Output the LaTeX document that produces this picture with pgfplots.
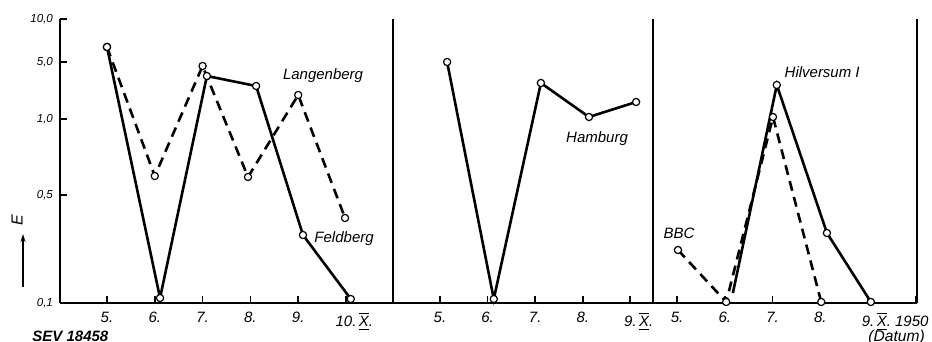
\documentclass[border=0pt]{standalone}
\usepackage{pgfplots}
\pgfplotsset{compat=1.18}
\usepackage{fontspec}
\setmainfont{Liberation Sans}
\usetikzlibrary{arrows.meta}

% Roman ten with bars above and below
\newcommand{\RX}{\ensuremath{\overline{\underline{\mbox{X}}}}}

\pgfplotsset{
  panel/.style={
    scale only axis, height=142pt, ymin=0, ymax=284,
    anchor=south west, clip=false,
    axis x line*=bottom,
    axis line style={line width=0.9pt, -},
    xtick={5,...,10},
    tick style={line width=0.9pt, black},
    xticklabel style={font=\fontsize{7.5}{8}\selectfont\itshape, yshift=-1pt},
  },
  inticks/.style={xtick align=inside, ytick align=inside, major tick length=3.5pt},
  solidline/.style={black, line width=1.3pt, mark=*, mark size=1.8pt,
    mark options={solid, fill=white, draw=black, line width=0.6pt}},
  dashline/.style={solidline, dash pattern=on 5pt off 3.2pt},
}
\tikzset{lbl/.style={font=\fontsize{7.5}{8}\selectfont\itshape}}

\begin{document}
\begin{tikzpicture}
\path[use as bounding box] (0,0) rectangle (466pt,171pt);

% panel 1: Feldberg and Langenberg
\begin{axis}[panel, at={(30pt,19.5pt)}, width=166.5pt,
  xmin=4.017, xmax=10.983,
  axis y line*=left,
  ytick={0,108,184,241,284},
  yticklabels={{0,1},{0,5},{1,0},{5,0},{10,0}},
  yticklabel style={font=\fontsize{5.8}{6}\selectfont\itshape},
  xticklabels={5.,6.,7.,8.,9.,{10.\rlap{\,\RX.}}}, inticks]
  \addplot[dashline] coordinates {(5.0,256) (6.0,127) (7.0,237) (7.95,126) (9.0,208) (9.98,85)};
  \addplot[solidline] coordinates {(5.0,256) (6.11,5) (7.09,227) (8.12,217) (9.10,68) (10.10,4)};
  \draw[line width=0.9pt] (rel axis cs:1,0) -- (rel axis cs:1,1);
  \node[lbl] at (axis cs:9.52,227) {Langenberg};
  \node[lbl] at (axis cs:9.96,64) {Feldberg};
\end{axis}

% panel 2: Hamburg
\begin{axis}[panel, at={(196.5pt,19.5pt)}, width=130pt,
  xmin=4.013, xmax=9.475,
  axis y line=none, ytick=\empty,
  xticklabels={5.,6.,7.,8.,{9.\rlap{\,\RX.}}}, inticks]
  \addplot[solidline] coordinates {(5.15,241) (6.13,4) (7.12,220) (8.13,186) (9.12,201)};
  \draw[line width=0.9pt] (rel axis cs:1,0) -- (rel axis cs:1,1);
  \node[lbl] at (axis cs:8.30,164) {Hamburg};
\end{axis}

% panel 3: Hilversum I and BBC
\begin{axis}[panel, at={(326.5pt,19.5pt)}, width=132pt,
  xmin=4.497, xmax=10.026,
  axis y line=none, ytick=\empty,
  xticklabels={5.,6.,7.,8.,{9.\rlap{\,\RX.\ 1950}}}, inticks]
  \addplot[dashline] coordinates {(5.02,53) (6.03,1) (7.01,186) (8.02,1)};
  \addplot[solidline, mark indices={2,3,4}] coordinates {(6.17,10) (7.09,218) (8.14,70) (9.06,1)};
  \draw[line width=0.9pt] (rel axis cs:1,0) -- (rel axis cs:1,1);
  \node[lbl] at (axis cs:8.04,231) {Hilversum I};
  \node[lbl] at (axis cs:5.04,70) {BBC};
\end{axis}

% axis name, arrow and plate number
\node[rotate=90, font=\fontsize{8}{8}\selectfont\itshape] at (8.5pt,61pt) {E};
\draw[line width=0.7pt, -{Stealth[length=4pt,width=2.5pt]}] (11.5pt,27.5pt) -- (11.5pt,54pt);
\node[anchor=west, font=\fontsize{7.5}{8}\selectfont\bfseries\itshape, inner sep=0pt] at (16pt,3pt) {SEV 18458};
\node[anchor=west, font=\fontsize{7.8}{8}\selectfont\itshape, inner sep=0pt] at (434pt,2.5pt) {(Datum)};
\end{tikzpicture}
\end{document}
